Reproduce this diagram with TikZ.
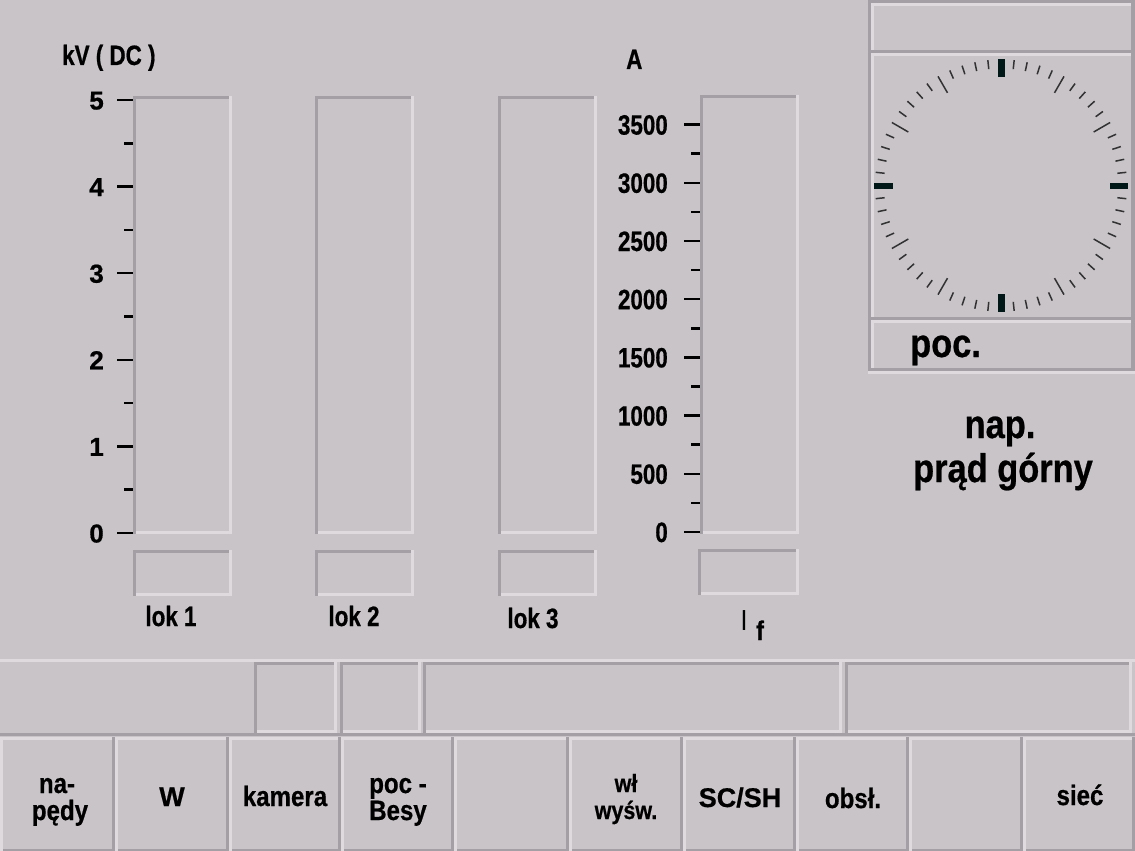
\documentclass[tikz,border=0pt]{standalone}
\usepackage{fontspec}
\setmainfont{Liberation Sans}[BoldFeatures={FakeBold=0.6}]
\newfontfamily\cfont{Liberation Sans}[FakeStretch=0.86, BoldFeatures={FakeBold=0.6}]
\newfontfamily\nfont{Liberation Sans}[FakeStretch=0.8, BoldFeatures={FakeBold=0.6}]
\definecolor{bg}{RGB}{200,196,200}
\definecolor{dk}{RGB}{163,159,164}
\definecolor{lt}{RGB}{222,218,222}
\definecolor{tickdk}{RGB}{0,24,24}
\definecolor{tickmn}{RGB}{50,50,50}
% bevelled box: x1,y1,x2,y2, top-left colour, bottom-right colour
\newcommand\bevbox[6]{%
  \fill[#5] (#1,#2) rectangle (#3,#2+3);
  \fill[#5] (#1,#2) rectangle (#1+3,#4);
  \fill[#6] (#1+3,#4-3) rectangle (#3,#4);
  \fill[#6] (#3-3,#2) rectangle (#3,#4);
}
\tikzset{
  txt/.style={inner sep=0pt, text=black},
  lnum/.style={txt, font=\bfseries\fontsize{26}{28}\selectfont},
  rnum/.style={txt, font=\nfont\bfseries\fontsize{28}{30}\selectfont},
  head/.style={txt, font=\nfont\bfseries\fontsize{28}{30}\selectfont},
  big/.style={txt, font=\cfont\bfseries\fontsize{40}{42}\selectfont},
  btn/.style={txt, font=\cfont\bfseries\fontsize{28}{30}\selectfont},
  btnw/.style={txt, font=\bfseries\fontsize{27}{29}\selectfont},
  btns/.style={txt, font=\cfont\bfseries\fontsize{25}{27}\selectfont},
  tk/.style={draw=black, line width=2.5pt},
  mtick/.style={draw=tickmn, line width=1.5pt},
}
\begin{document}
\begin{tikzpicture}[x=1pt,y=-1pt]
\useasboundingbox (0,0) rectangle (1135,851);
\fill[bg] (0,0) rectangle (1135,851);

% ---- bars (sunken) ----
\bevbox{133}{96}{232}{534}{dk}{lt}
\bevbox{133}{550}{232}{596}{dk}{lt}
\bevbox{315}{96}{414}{534}{dk}{lt}
\bevbox{315}{550}{414}{596}{dk}{lt}
\bevbox{498}{96}{597}{534}{dk}{lt}
\bevbox{498}{550}{597}{596}{dk}{lt}
\bevbox{700}{95}{799}{534}{dk}{lt}
\bevbox{698}{549}{799}{595}{dk}{lt}

% ---- left axis ----
\node[head, anchor=base west] (kv) at (62,65) {kV ( DC )};
\foreach \k in {0,...,5} {
  \pgfmathsetmacro\yy{533-86.6*\k}
  \draw[tk] (117,\yy) -- (133,\yy);
  \node[lnum, anchor=base east] (lv\k) at (104,\yy+9.5) {\k};
}
\foreach \k in {0,...,4} {
  \pgfmathsetmacro\yy{533-86.6*\k-43.3}
  \draw[tk] (124,\yy) -- (133,\yy);
}

% ---- right axis ----
\node[head, anchor=base west] (amp) at (626,69) {A};
\foreach \k/\v in {0/0,1/500,2/1000,3/1500,4/2000,5/2500,6/3000,7/3500} {
  \pgfmathsetmacro\yy{532-58.2*\k}
  \draw[tk] (684,\yy) -- (700,\yy);
  \node[rnum, anchor=base east] (rv\k) at (668,\yy+10) {\v};
}
\foreach \k in {0,...,6} {
  \pgfmathsetmacro\yy{532-58.2*\k-29.1}
  \draw[tk] (691,\yy) -- (700,\yy);
}

% ---- bar labels ----
\node[head, anchor=base] (lok1) at (171,626) {lok 1};
\node[head, anchor=base] (lok2) at (354,626) {lok 2};
\node[head, anchor=base] (lok3) at (533,628) {lok 3};
\node[txt, font=\cfont\fontsize{29}{31}\selectfont, anchor=base] (ifI) at (744,630) {I};
\node[txt, font=\cfont\bfseries\fontsize{27}{29}\selectfont, anchor=base] (iff) at (760,640) {f};

% ---- right panel ----
\fill[dk] (868,0) rectangle (1135,3);
\fill[dk] (868,0) rectangle (871,371);
\fill[dk] (1131,0) rectangle (1135,371);
\fill[lt] (868,371) rectangle (1135,374);
% top box
\fill[lt] (871,3.5) rectangle (1131,6.5);
\fill[lt] (871,3.5) rectangle (874,50);
\fill[dk] (871,50) rectangle (1131,53);
% clock box
\fill[lt] (871,53) rectangle (1131,56);
\fill[lt] (871,53) rectangle (874,317);
\fill[dk] (871,317) rectangle (1131,320);
% poc box
\fill[lt] (871,320) rectangle (1131,323);
\fill[lt] (871,320) rectangle (874,368);
\fill[dk] (871,368) rectangle (1131,371);

% clock ticks
\foreach \i in {1,...,59} {
  \pgfmathtruncatemacro\tmA{mod(\i,15)}
  \pgfmathtruncatemacro\tmB{mod(\i,5)}
  \ifnum\tmA=0\relax\else
    \ifnum\tmB=0\relax
      \draw[mtick, shift={(1001,185.5)}] (90-\i*6:107) -- (90-\i*6:126);
    \else
      \draw[mtick, shift={(1001,185.5)}] (90-\i*6:117) -- (90-\i*6:126);
    \fi
  \fi
}
\fill[tickdk] (998,59) rectangle (1005,77);
\fill[tickdk] (998,294) rectangle (1005,312);
\fill[tickdk] (874,183) rectangle (893,189);
\fill[tickdk] (1110,183) rectangle (1128,189);

\node[big, anchor=base west] (poc) at (910,357) {poc.};
\node[big, anchor=base] (nap) at (1000,438) {nap.};
\node[big, anchor=base] (prad) at (1003,482) {prąd górny};

% ---- status row ----
\fill[lt] (0,659) rectangle (1135,662);
\fill[dk] (0,733) rectangle (1135,736);
\bevbox{254}{662}{337}{733}{dk}{lt}
\bevbox{340}{662}{421}{733}{dk}{lt}
\bevbox{423}{662}{842}{733}{dk}{lt}
\bevbox{845}{662}{1132}{733}{dk}{lt}

% ---- buttons (raised) ----
\foreach \xa/\xb in {0/115,115/229,229/341,341/454,454/569,569/683,683/796,796/909,909/1023,1023/1135} {
  \bevbox{\xa}{737}{\xb}{852}{lt}{dk}
}
\node[btn, anchor=base] (b1a) at (57,793) {na-};
\node[btn, anchor=base] (b1b) at (60,820) {pędy};
\node[btnw, anchor=base] (b2) at (172,806) {W};
\node[btn, anchor=base] (b3) at (285,806) {kamera};
\node[btn, anchor=base] (b4a) at (398,793) {poc -};
\node[btn, anchor=base] (b4b) at (398,820) {Besy};
\node[btns, anchor=base] (b6a) at (626,792) {wł};
\node[btns, anchor=base] (b6b) at (626,819) {wyśw.};
\node[btnw, anchor=base] (b7) at (740,807) {SC/SH};
\node[btn, anchor=base] (b8) at (853,808) {obsł.};
\node[btn, anchor=base] (b10) at (1080,805) {sieć};
\end{tikzpicture}
\end{document}
